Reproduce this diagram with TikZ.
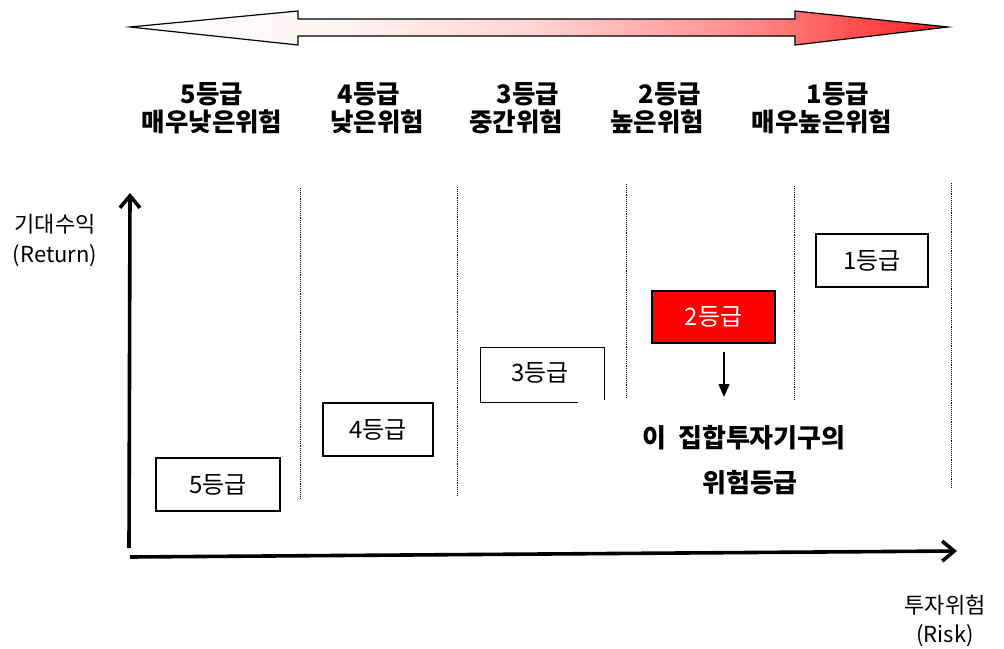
\documentclass[tikz,border=0pt]{standalone}
\usepackage{fontspec}
\newfontfamily\kr{Noto Sans CJK KR}
\usetikzlibrary{arrows.meta}
\definecolor{gA}{RGB}{255,244,244}
\definecolor{gB}{RGB}{255,210,210}
\definecolor{gC}{RGB}{255,140,140}
\definecolor{gD}{RGB}{255,30,30}
\definecolor{boxred}{RGB}{255,0,0}
\pgfdeclarehorizontalshading{riskgrad}{100bp}{color(0bp)=(white); color(25bp)=(white); color(37.5bp)=(gA); color(50bp)=(gB); color(62.5bp)=(gC); color(75bp)=(gD); color(100bp)=(gD)}
\begin{document}
\begin{tikzpicture}[x=1pt,y=-1pt,
  gradebox/.style={draw, line width=1.4pt, inner sep=0pt, font=\kr\fontsize{24}{24}\selectfont},
  head/.style={font=\kr\bfseries\fontsize{25.5}{25.5}\selectfont, inner sep=0pt},
  center/.style={font=\kr\bfseries\fontsize{26}{26}\selectfont, inner sep=0pt},
  axislabel/.style={font=\kr\fontsize{22}{22}\selectfont, inner sep=0pt},
  sep/.style={densely dotted, line width=0.9pt},
  axis/.style={line width=3.6pt, -{Straight Barb[length=12pt,width=20pt]}}]
\useasboundingbox (0,0) rectangle (1004,648);
% top gradient double arrow
\draw[line width=1.2pt, shading=riskgrad]
  (130,27) -- (298,11) -- (298,19) -- (795,19) -- (795,11) -- (948,27)
  -- (795,45) -- (795,36) -- (298,36) -- (298,45) -- cycle;
% headers
\node[head] (h5a) at (212,94) {5등급};
\node[head] (h5b) at (212,122) {매우낮은위험};
\node[head] (h4a) at (369,94) {4등급};
\node[head] (h4b) at (377,122) {낮은위험};
\node[head] (h3a) at (528,94) {3등급};
\node[head] (h3b) at (516,122) {중간위험};
\node[head] (h2a) at (670,94) {2등급};
\node[head] (h2b) at (657,122) {높은위험};
\node[head] (h1a) at (838,94) {1등급};
\node[head] (h1b) at (822,122) {매우높은위험};
% dotted separators
\coordinate (s1t) at (300,188); \coordinate (s1b) at (300,498);
\coordinate (s2t) at (457,187); \coordinate (s2b) at (457,496);
\coordinate (s3t) at (626,184); \coordinate (s3b) at (626,398);
\coordinate (s4t) at (794,186); \coordinate (s4b) at (794,400);
\coordinate (s5t) at (951,183); \coordinate (s5b) at (951,488);
\draw[sep] (s1t) -- (s1b);
\draw[sep] (s2t) -- (s2b);
\draw[sep] (s3t) -- (s3b);
\draw[sep] (s4t) -- (s4b);
\draw[sep] (s5t) -- (s5b);
% grade boxes
\node[gradebox, minimum width=124pt, minimum height=53pt] (g5) at (218,484.5) {5등급};
\node[gradebox, minimum width=110pt, minimum height=53pt] (g4) at (378,429.5) {4등급};
\node[gradebox, draw=none, minimum width=123pt, minimum height=54pt] (g3) at (542.5,375) {};
\node[gradebox, draw=none] (g3t) at (540,373) {3등급};
\draw[line width=1.4pt] ([yshift=3pt]g3.south east) -- (g3.north east) -- (g3.north west) -- (g3.south west) -- ++(98,0);
\node[gradebox, fill=boxred, text=white, minimum width=123pt, minimum height=52pt] (g2) at (713.5,317) {2등급};
\node[gradebox, minimum width=112pt, minimum height=53pt] (g1) at (872,260.5) {1등급};
% pointer arrow
\coordinate (pt) at (724,397);
\draw[line width=1.5pt, -{Triangle[length=13pt,width=11pt]}] ([yshift=-8pt]g2.south -| pt) -- (pt);
% this fund's grade
\node[center] (c1) at (744,438) {이\ \ 집합투자기구의};
\node[center] (c2) at (750,483) {위험등급};
% axes
\coordinate (o) at (130,557);
\coordinate (yo) at (129,548);
\coordinate (yt) at (130,193);
\coordinate (xt) at (957,551);
\draw[axis] (yo) -- (yt);
\draw[axis] (o) -- (xt);
% axis labels
\node[axislabel] (yl1) at (55,224) {기대수익};
\node[axislabel] (yl2) at (55,256) {(Return)};
\node[axislabel] (xl1) at (945,605) {투자위험};
\node[axislabel] (xl2) at (945,636) {(Risk)};
\end{tikzpicture}
\end{document}
